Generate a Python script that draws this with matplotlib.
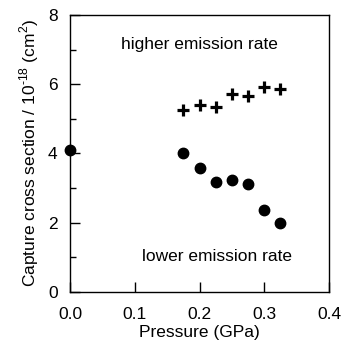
import matplotlib
matplotlib.use("Agg")
import matplotlib.pyplot as plt
from matplotlib.ticker import MultipleLocator, FormatStrFormatter

plt.rcParams['font.family'] = ['Liberation Sans', 'DejaVu Sans']
plt.rcParams['mathtext.fontset'] = 'custom'
plt.rcParams['mathtext.rm'] = 'Liberation Sans'

# data
circ_p = [0.0, 0.175, 0.2, 0.225, 0.25, 0.275, 0.3, 0.325]
circ_s = [4.1, 4.0, 3.57, 3.19, 3.24, 3.13, 2.37, 1.98]
cross_p = [0.175, 0.2, 0.225, 0.25, 0.275, 0.3, 0.325]
cross_s = [5.26, 5.39, 5.35, 5.72, 5.65, 5.93, 5.87]

fig = plt.figure(figsize=(3.42, 3.48), dpi=100)
ax = fig.add_axes([0.205, 0.161, 0.757, 0.796])

ax.plot(circ_p, circ_s, 'o', color='black', markersize=7.5, clip_on=False, zorder=3)
ax.plot(cross_p, cross_s, '+', color='black', markersize=9, mew=2.3, zorder=3)

ax.text(0.2, 7.15, "higher emission rate", ha='center', va='center', fontsize=12.5)
ax.text(0.227, 1.02, "lower emission rate", ha='center', va='center', fontsize=12.5)

ax.set_xlim(0.0, 0.4)
ax.set_ylim(0, 8)
ax.xaxis.set_major_locator(MultipleLocator(0.1))
ax.xaxis.set_major_formatter(FormatStrFormatter('%.1f'))
ax.yaxis.set_major_locator(MultipleLocator(2))
ax.yaxis.set_minor_locator(MultipleLocator(1))
ax.tick_params(direction='in', which='major', length=7, width=1, labelsize=12.5)
ax.tick_params(direction='in', which='minor', length=4, width=1)
ax.tick_params(axis='x', pad=11)
ax.tick_params(axis='y', pad=9)
for s in ax.spines.values():
    s.set_linewidth(1)

ax.set_xlabel("Pressure (GPa)", fontsize=12.5, labelpad=2)
ax.set_ylabel(r"Capture cross section / 10$^{\text{-18}}$ (cm$^{\text{2}}$)",
              fontsize=12.5, labelpad=5)

fig.savefig("out.png", dpi=100)
